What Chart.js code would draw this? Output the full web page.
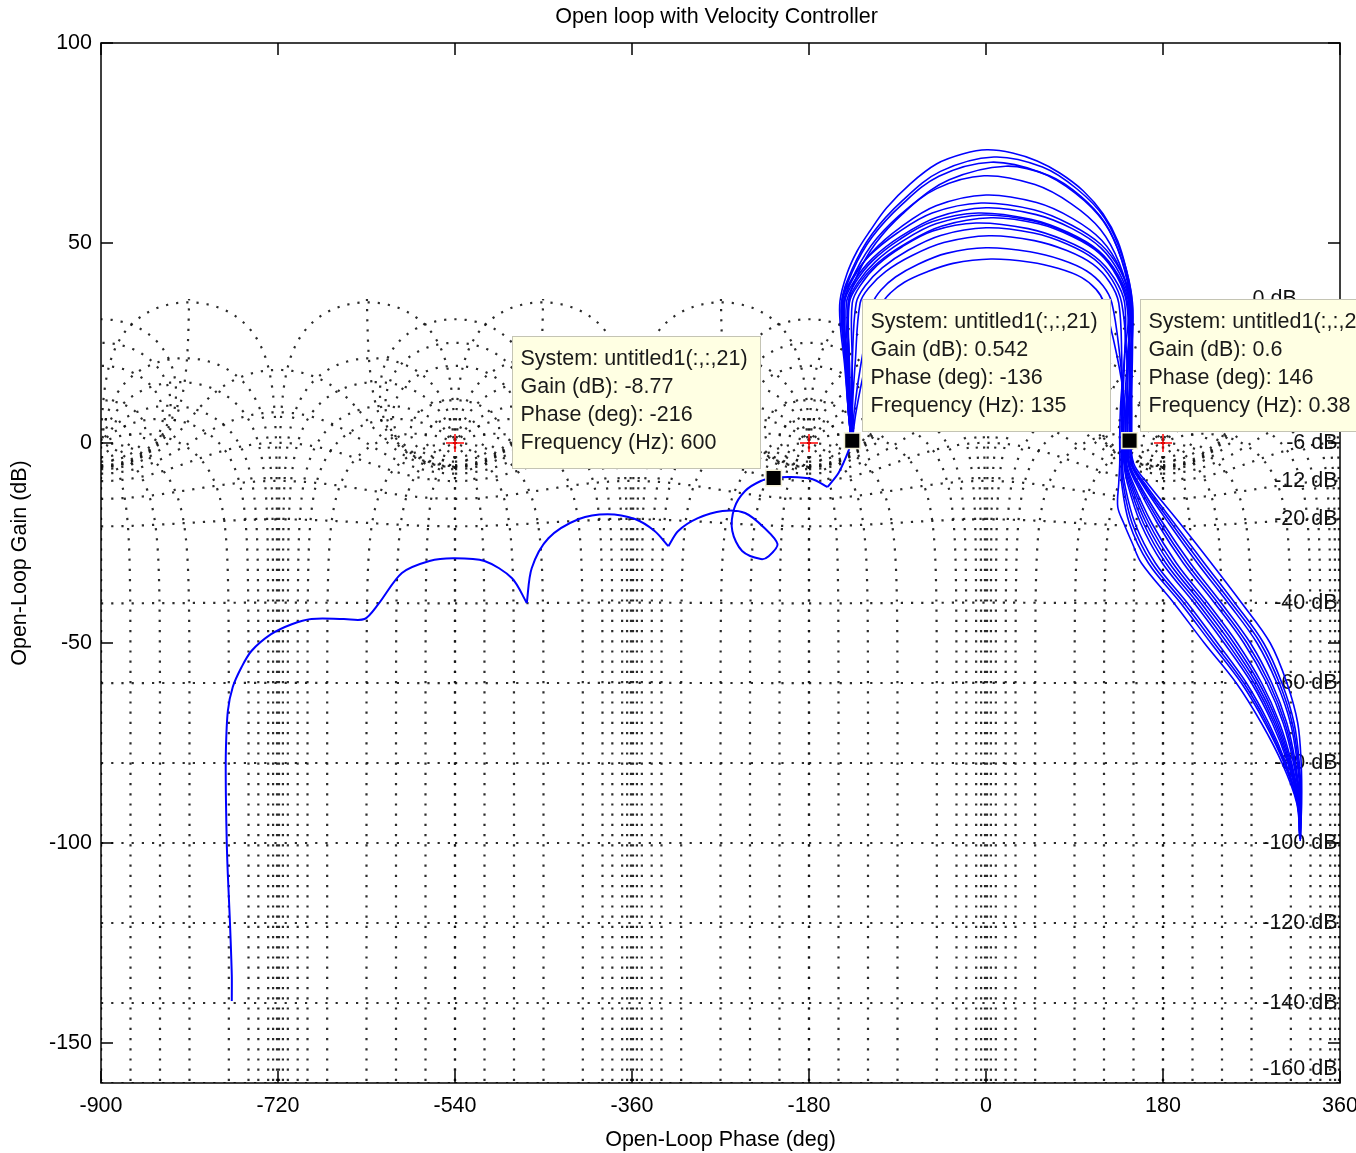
<!DOCTYPE html>
<html>
<head>
<meta charset="utf-8">
<title>Open loop with Velocity Controller</title>
<script src="https://cdn.jsdelivr.net/npm/chart.js@4.4.1/dist/chart.umd.min.js"></script>
<style>
  html, body { margin: 0; padding: 0; background: #fff; }
  canvas { display: block; }
</style>
</head>
<body>
<canvas id="nichols" width="1356" height="1153"></canvas>
<script>
// axis ticks
const phaseTicks = [-900, -720, -540, -360, -180, 0, 180, 360];
const gainTicks = [-150, -100, -50, 0, 50, 100];

// Nichols grid: closed-loop gain (dB) and closed-loop phase (deg) contours
const gridGainDb = [6, 3, 1, 0.5, 0.25, 0, -1, -3, -6, -12, -20, -40, -60, -80, -100, -120, -140, -160];
const gridPhaseDeg = [-1, -5, -10, -20, -30, -50, -90, -120, -150, -180, 1, 5, 10, 20, 30, 50, 90, 120, 150, 180];
const gridLabelText = ['0 dB', '-6 dB', '-12 dB', '-20 dB', '-40 dB', '-60 dB', '-80 dB', '-100 dB', '-120 dB', '-140 dB', '-160 dB'];
const gridLabelGain = [36, 0, -9.5, -19, -40, -60, -80, -100, -120, -140, -156.5];
const gridLabelPhase = [316, 357.5, 357.5, 357.5, 357.5, 357.5, 357.5, 357.5, 357.5, 357.5, 357.5];
const criticalPhase = [-540, -180, 180];
const criticalGain = [0, 0, 0];

// data tips
const tipSystem = 'untitled1(:,:,21)';
const tipPhase = [-216, -136, 146];
const tipGain = [-8.77, 0.542, 0.6];
const tipFreq = [600, 135, 0.38];

// high frequency branch of system 21 (phase deg, gain dB)
const hfPathA = [[-767,-139.5],[-767,-133],[-769,-119],[-771,-108],[-772,-101],[-773,-88],[-773,-77],[-771,-67],[-766,-61],[-757,-56],[-747,-52],[-727,-47.8],[-706,-45.3],[-686,-44],[-653,-44],[-632,-44],[-618,-40.3],[-594,-32.5],[-566,-29.5],[-542,-28.8],[-510,-29.5],[-482,-33.8],[-467,-40]];
const hfPathB = [[-467,-40],[-462,-31.3],[-445,-23.8],[-414,-19],[-385,-17.8],[-357,-19],[-337,-22],[-323,-25.8]];
const hfPathC = [[-323,-25.8],[-313,-22],[-293,-18.8],[-268,-17],[-245,-17.5],[-225,-21.3],[-212,-25.3],[-221,-28.3],[-229,-29],[-248,-27],[-258,-22],[-256,-16.3],[-245,-12],[-229,-9.5],[-216,-8.77],[-199,-8.5],[-177,-9],[-161,-11]];
const hfPathD = [[-161,-11],[-150,-7.5],[-142,-3.3],[-136,0.542]];

// the bundle of loops (one per system)
const loop01 = [[-137,0.5],[-140,8],[-144,20],[-148,29],[-148.5,35.5],[-141.4,42.3],[-131,48],[-118,53],[-101,58.8],[-77,64.8],[-50,69.8],[-23,72.3],[1,73.3],[27,72.5],[52,70.5],[75,67.5],[99,63],[119,57.3],[134,50.5],[143,43],[148.5,35.5],[149,24],[148,12],[147,3],[150,-5],[164,-10],[197,-20],[229,-30],[260,-40],[289,-50],[306,-60],[317,-70],[320.5,-80],[321,-90],[319.4,-99]];
const loop02 = [[-136,0.5],[-139,8],[-142,20],[-146,35],[-135.4,43.1],[-115.8,51.5],[-85.6,59.6],[-47.9,66.7],[5,70.2],[55,67.7],[90.8,62.5],[119.4,55.4],[138,45.9],[148,35],[147,22],[145,10],[144,2],[143,-5],[149.5,-10],[168.5,-20],[193.5,-30],[225.5,-40],[255.5,-50],[280.3,-60],[298.5,-70],[310.8,-80],[318.5,-90],[319,-98]];
const loop03 = [[-137,0.6],[-140,8],[-141,20],[-144,35],[-132.5,42.9],[-111.2,51.1],[-78.4,58.9],[-37.4,65.8],[20,69.2],[64.5,66.8],[96.2,61.7],[121.6,54.8],[138.1,45.6],[147,35],[148,22],[148,10],[148,2],[148.6,-5],[161.1,-10],[191.3,-20],[221.9,-30],[253.1,-40],[282.3,-50],[300.9,-60],[313.3,-70],[318.6,-80],[320.5,-90],[319.5,-99.5]];
const loop04 = [[-136,0.4],[-138,8],[-139,20],[-140,35],[-130.3,42.3],[-112.4,49.9],[-84.8,57.3],[-50.3,63.6],[-2,66.8],[49.8,64.6],[86.8,59.8],[116.4,53.4],[135.6,44.9],[146,35],[144,22],[141,10],[140,2],[138.8,-5],[140.8,-10],[151.4,-20],[172.2,-30],[204.8,-40],[235.4,-50],[264.8,-60],[287.4,-70],[304.9,-80],[317,-90],[319,-98.5]];
const loop05 = [[-137,0.5],[-140,8],[-143,20],[-147,35],[-137.1,40.8],[-118.6,46.8],[-90.2,52.5],[-54.7,57.5],[-5,60],[48.6,58.3],[86.8,54.5],[117.4,49.5],[137.3,42.8],[148,35],[147,22],[146,10],[146,2],[145.8,-5],[155.3,-10],[179.9,-20],[207.7,-30],[239.3,-40],[268.9,-50],[290.6,-60],[305.9,-70],[314.7,-80],[319.5,-90],[320,-99]];
const loop06 = [[-136,0.5],[-139,8],[-141,20],[-144,35],[-133.9,40.5],[-115.2,46.2],[-86.4,51.7],[-50.4,56.4],[0,58.8],[51.1,57.1],[87.6,53.6],[116.8,48.8],[135.8,42.4],[146,35],[145,22],[143,10],[142,2],[141.6,-5],[146.6,-10],[162.8,-20],[186.4,-30],[218.6,-40],[248.8,-50],[275.1,-60],[294.8,-70],[308.8,-80],[318,-90],[319,-97]];
const loop07 = [[-137,0.5],[-139,8],[-140,20],[-142,35],[-132.6,40.2],[-115.2,45.6],[-88.4,50.8],[-54.9,55.3],[-8,57.5],[45.6,55.9],[83.8,52.6],[114.4,48.1],[134.3,42],[145,35],[141,22],[137,10],[136,2],[136,-5],[135,-10],[134,-16],[140,-20],[148.7,-25],[158,-30],[191,-40],[222,-50],[254.5,-60],[280,-70],[301,-80],[316,-90],[319.4,-99]];
const loop08 = [[-136,0.5],[-138,8],[-139,20],[-139,35],[-128.9,39.9],[-110.2,45],[-81.4,49.9],[-45.4,54.2],[5,56.3],[53.3,54.8],[87.8,51.6],[115.4,47.4],[133.3,41.6],[143,35],[146,22],[147,10],[147,2],[147.2,-5],[158.2,-10],[185.6,-20],[214.8,-30],[246.2,-40],[275.6,-50],[295.7,-60],[309.6,-70],[316.6,-80],[320,-90],[319.5,-98]];
const loop09 = [[-136,0.5],[-137,8],[-136,20],[-132,35],[-122.8,39.3],[-105.6,43.8],[-79.2,48.2],[-46.2,51.9],[0,53.8],[48.3,52.5],[82.8,49.7],[110.4,45.9],[128.3,40.8],[138,35],[143,22],[144,10],[144,2],[144.4,-5],[152.4,-10],[174.2,-20],[200.6,-30],[232.4,-40],[262.2,-50],[285.4,-60],[302.2,-70],[312.7,-80],[319,-90],[319.4,-99]];
const loop10 = [[-136,0.5],[-136,8],[-133,20],[-128,35],[-118.8,38.9],[-101.8,42.9],[-75.6,46.8],[-42.9,50.1],[3,51.8],[49.2,50.6],[82.2,48.1],[108.6,44.7],[125.8,40.2],[135,35],[138,22],[138,10],[137.5,2],[137.4,-5],[137.9,-10],[145.7,-20],[165.1,-30],[197.9,-40],[228.7,-50],[259.7,-60],[283.7,-70],[303,-80],[316.5,-90],[319.4,-99]];
const loop11 = [[-136,0.5],[-134,8],[-127,20],[-115,35],[-107,38.2],[-92,41.5],[-69,44.7],[-40.3,47.4],[0,48.8],[44.8,47.8],[76.8,45.8],[102.4,43],[119,39.3],[128,35],[136,22],[140,10],[140,2],[140.2,-5],[143.7,-10],[157.1,-20],[179.3,-30],[211.7,-40],[242.1,-50],[270,-60],[291.1,-70],[306.9,-80],[317.5,-90],[319,-97.5]];
const loop12 = [[-136,0.5],[-132,8],[-122,20],[-105,35],[-97.3,37.5],[-83,40.2],[-61,42.7],[-33.5,44.9],[5,46],[45.3,45.2],[74,43.6],[97,41.4],[112,38.4],[120,35],[133,22],[141,10],[142,2],[142.3,-5],[148,-10],[165.6,-20],[189.9,-30],[222,-40],[252.1,-50],[277.7,-60],[296.6,-70],[309.8,-80],[318.2,-90],[319.4,-99]];
const loop13 = [[-137,0.5],[-140,8],[-143,20],[-147,35],[-136.2,43.4],[-116,52.2],[-85,60.6],[-46.3,67.9],[8,71.5],[57.4,69],[92.6,63.5],[120.8,56.2],[139.1,46.3],[149,35],[148,22],[147,10],[146,2],[145.1,-5],[153.8,-10],[177,-20],[204.1,-30],[235.8,-40],[265.5,-50],[288,-60],[304,-70],[313.7,-80],[319.3,-90],[319.4,-99]];
const loop14 = [[-136,0.5],[-139,8],[-141,20],[-145,35],[-134.9,41.2],[-116,47.7],[-87,53.9],[-50.8,59.3],[0,62],[51.5,60.1],[88.2,56.1],[117.6,50.7],[136.7,43.4],[147,35],[145,22],[143,10],[142,2],[140.9,-5],[145.1,-10],[160,-20],[182.8,-30],[215.1,-40],[245.4,-50],[272.5,-60],[293,-70],[307.8,-80],[317.7,-90],[319.2,-99]];
const loop15 = [[-137,0.5],[-138,8],[-139,20],[-140,35],[-130.4,40.1],[-112.6,45.3],[-85.2,50.4],[-51,54.8],[-3,57],[48.5,55.5],[85.2,52.2],[114.6,47.8],[133.7,41.8],[144,35],[146,22],[148,10],[148,2],[147.9,-5],[159.6,-10],[188.4,-20],[218.3,-30],[249.6,-40],[279,-50],[298.3,-60],[311.4,-70],[317.6,-80],[320.3,-90],[319.6,-99]];
const loop16 = [[-136,0.5],[-136,8],[-136,20],[-136,35],[-127.2,39.6],[-110.8,44.4],[-85.6,49],[-54.1,53],[-10,55],[42.9,53.6],[80.6,50.6],[110.8,46.6],[130.4,41.2],[141,35],[141,22],[139,10],[138.5,2],[138.1,-5],[139.3,-10],[148.5,-20],[168.6,-30],[201.3,-40],[232,-50],[262.2,-60],[285.5,-70],[303.9,-80],[316.8,-90],[319.4,-99]];

const FONT = '"Liberation Sans", Arial, Helvetica, sans-serif';
Chart.defaults.font.family = FONT;
Chart.defaults.font.size = 21.5;
Chart.defaults.color = '#000';

// open-loop point L = T / (1 - T) for a closed-loop point T
function toOpenLoop(re, im) {
    const dr = 1 - re;
    const den = dr * dr + im * im;
    const lr = (re - re * re - im * im) / den;
    const li = im / den;
    return [Math.atan2(li, lr) * 180 / Math.PI, 10 * Math.log10(lr * lr + li * li)];
}

function unwrap(pts) {
    for (let i = 1; i < pts.length; i++) {
        let d = pts[i][0] - pts[i - 1][0];
        while (d > 180) { pts[i][0] -= 360; d -= 360; }
        while (d < -180) { pts[i][0] += 360; d += 360; }
    }
    return pts;
}

function gainContour(db) {
    const m = Math.pow(10, db / 20);
    const n = 900;
    const parts = [];
    let cur = [];
    for (let k = -n; k <= n; k++) {
        if (k === 0 && Math.abs(m - 1) < 1e-9) {
            parts.push(unwrap(cur));
            cur = [];
            continue;
        }
        const th = Math.PI * Math.sign(k) * (k / n) * (k / n);
        cur.push(toOpenLoop(m * Math.cos(th), m * Math.sin(th)));
    }
    parts.push(unwrap(cur));
    return parts;
}

function phaseContour(deg) {
    const psi = deg * Math.PI / 180;
    const pts = [];
    let s = -9;
    while (s <= 7) {
        const r = Math.pow(10, s);
        pts.push(toOpenLoop(r * Math.cos(psi), r * Math.sin(psi)));
        s += Math.abs(s) < 0.3 ? 0.0005 : 0.02;
    }
    return [unwrap(pts)];
}

const gridTraces = [];
gridGainDb.forEach(g => gainContour(g).forEach(t => gridTraces.push(t)));
gridPhaseDeg.forEach(p => phaseContour(p).forEach(t => gridTraces.push(t)));

const nicholsGrid = {
    id: 'nicholsGrid',
    beforeDatasetsDraw(chart) {
        const { ctx, chartArea: a, scales: { x, y } } = chart;
        ctx.save();
        ctx.beginPath();
        const top = y.getPixelForValue(36);
        ctx.rect(a.left, top, a.right - a.left, a.bottom - top);
        ctx.clip();
        ctx.strokeStyle = 'rgba(20,20,20,0.9)';
        ctx.lineWidth = 2.2;
        ctx.setLineDash([2.2, 8]);
        gridTraces.forEach(tr => {
            let lo = Infinity, hi = -Infinity;
            tr.forEach(p => { lo = Math.min(lo, p[0]); hi = Math.max(hi, p[0]); });
            for (let k = -4; k <= 3; k++) {
                if (hi + 360 * k < -900 || lo + 360 * k > 360) continue;
                ctx.beginPath();
                let pen = false;
                for (const [p, g] of tr) {
                    if (g < -175 || g > 60) { pen = false; continue; }
                    const px = x.getPixelForValue(p + 360 * k);
                    const py = y.getPixelForValue(g);
                    if (pen) ctx.lineTo(px, py); else ctx.moveTo(px, py);
                    pen = true;
                }
                ctx.stroke();
            }
        });
        ctx.restore();

        // contour labels
        ctx.save();
        ctx.font = '21.5px ' + FONT;
        ctx.fillStyle = '#111';
        ctx.textAlign = 'right';
        ctx.textBaseline = 'middle';
        gridLabelText.forEach((t, i) => {
            ctx.fillText(t, x.getPixelForValue(gridLabelPhase[i]), y.getPixelForValue(gridLabelGain[i]));
        });
        ctx.restore();
    }
};

const frame = {
    id: 'frame',
    afterDatasetsDraw(chart) {
        const { ctx, chartArea: a, scales: { x, y } } = chart;
        ctx.save();
        ctx.strokeStyle = '#000';
        ctx.lineWidth = 1.5;
        ctx.setLineDash([]);
        ctx.strokeRect(a.left, a.top, a.right - a.left, a.bottom - a.top);
        ctx.beginPath();
        phaseTicks.forEach(v => {
            const px = x.getPixelForValue(v);
            ctx.moveTo(px, a.bottom); ctx.lineTo(px, a.bottom - 12);
            ctx.moveTo(px, a.top); ctx.lineTo(px, a.top + 12);
        });
        gainTicks.forEach(v => {
            const py = y.getPixelForValue(v);
            ctx.moveTo(a.left, py); ctx.lineTo(a.left + 12, py);
            ctx.moveTo(a.right, py); ctx.lineTo(a.right - 12, py);
        });
        ctx.stroke();
        ctx.restore();
    }
};

const tips = {
    id: 'tips',
    afterDraw(chart) {
        const { ctx, chartArea: a, scales: { x, y } } = chart;
        const dx = [-262, 10, 10];
        ctx.save();
        ctx.font = '21.5px ' + FONT;
        ctx.textBaseline = 'middle';
        ctx.textAlign = 'left';
        tipPhase.forEach((p, i) => {
            const bx = Math.round(x.getPixelForValue(p) + dx[i]) + 0.5;
            const by = Math.round(y.getPixelForValue(tipGain[i]) - 142) + 0.5;
            ctx.fillStyle = '#ffffe3';
            ctx.fillRect(bx, by, 248, 132);
            ctx.strokeStyle = '#c4c4b4';
            ctx.lineWidth = 1;
            ctx.strokeRect(bx, by, 248, 132);
            ctx.fillStyle = '#1a1a1a';
            const lines = ['System: ' + tipSystem, 'Gain (dB): ' + tipGain[i], 'Phase (deg): ' + p, 'Frequency (Hz): ' + tipFreq[i]];
            lines.forEach((t, j) => ctx.fillText(t, bx + 8, by + 23 + 28 * j));
        });
        ctx.textAlign = 'center';
        ctx.fillStyle = '#000';
        ctx.fillText('Open loop with Velocity Controller', (a.left + a.right) / 2 - 4, 17);
        ctx.restore();
    }
};

const toXY = arr => arr.map(([p, g]) => ({ x: p, y: g }));
const curve = (arr, w, t) => ({
    data: toXY(arr), showLine: true, borderColor: '#0000ff', borderWidth: w,
    pointRadius: 0, tension: t, fill: false, borderJoinStyle: 'round', order: 3
});

const loops = [loop01, loop02, loop03, loop04, loop05, loop06, loop07, loop08,
    loop09, loop10, loop11, loop12, loop13, loop14, loop15, loop16];
const datasets = [
    {
        data: tipPhase.map((p, i) => ({ x: p, y: tipGain[i] })),
        pointStyle: 'rect', pointRadius: 11, backgroundColor: '#000',
        borderColor: '#f3f0d6', borderWidth: 1.5, order: 0
    },
    {
        data: criticalPhase.map((p, i) => ({ x: p, y: criticalGain[i] })),
        pointStyle: 'cross', pointRadius: 9, borderColor: '#ff0000', borderWidth: 1.5, order: 1
    },
    curve(hfPathA, 2, 0.3), curve(hfPathB, 2, 0.3), curve(hfPathC, 2, 0.3), curve(hfPathD, 2, 0.3)
];
loops.forEach(l => datasets.push(curve(l, 1.6, 0.35)));

new Chart(document.getElementById('nichols'), {
    type: 'scatter',
    data: { datasets },
    options: {
        responsive: false,
        animation: false,
        layout: { padding: { top: 43, right: 16, left: 0, bottom: 0 } },
        plugins: { legend: { display: false }, tooltip: { enabled: false } },
        scales: {
            x: {
                type: 'linear', min: -900, max: 360,
                afterBuildTicks: s => { s.ticks = phaseTicks.map(v => ({ value: v })); },
                afterFit: s => { s.height = 70; s.paddingLeft = 0; s.paddingRight = 0; },
                grid: { display: false, drawTicks: false },
                border: { display: false },
                ticks: { padding: 10, maxRotation: 0, autoSkip: false },
                title: { display: true, text: 'Open-Loop Phase (deg)', padding: { top: 0, bottom: 0 } }
            },
            y: {
                type: 'linear', min: -160, max: 100,
                afterBuildTicks: s => { s.ticks = gainTicks.map(v => ({ value: v })); },
                afterFit: s => { s.width = 101; s.paddingTop = 0; s.paddingBottom = 0; },
                grid: { display: false, drawTicks: false },
                border: { display: false },
                ticks: { padding: 9, autoSkip: false },
                title: { display: true, text: 'Open-Loop Gain (dB)', padding: { top: 7, bottom: 0 } }
            }
        }
    },
    plugins: [nicholsGrid, frame, tips]
});
</script>
</body>
</html>
